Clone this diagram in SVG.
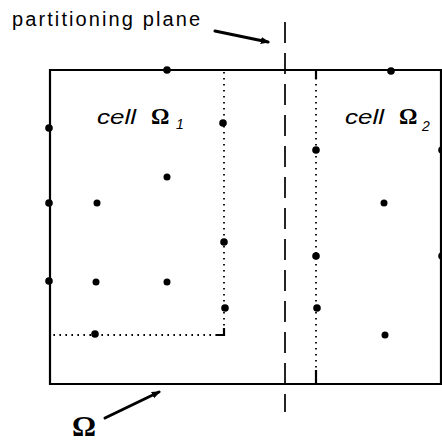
<svg xmlns="http://www.w3.org/2000/svg" width="442" height="443" viewBox="0 0 442 443">
<style>
.solid{fill:none;stroke:#000;stroke-width:2.2}
.dot{fill:#000}
.dotted{fill:none;stroke:#000;stroke-width:1.8;stroke-dasharray:1.6 4.4}
.dash{fill:none;stroke:#000;stroke-width:1.7;stroke-dasharray:21 10}
.ptr{fill:none;stroke:#000;stroke-width:3;stroke-linecap:round}
.lab{font-family:"Liberation Sans",Arial,sans-serif;fill:#000}
.om{font-family:"Liberation Serif","Times New Roman",serif;font-weight:bold;fill:#000}
</style>
<defs>
<marker id="ah" viewBox="0 0 10 10" refX="8" refY="5" markerWidth="3" markerHeight="3" orient="auto">
<path d="M0,1 L10,5 L0,9 z" fill="#000"/>
</marker>
</defs>
<rect width="442" height="443" fill="#fff"/>
<g id="domain">
<path class="solid" d="M50,70 H441 V384 H50 Z"/>
</g>
<g id="cell1">
<path class="dotted" d="M224,72 V335 H50"/>
<path class="solid" d="M224,328 V335 H216" stroke-width="1.6"/>
<text class="lab" x="97" y="124" font-size="20" font-style="italic" textLength="39" lengthAdjust="spacingAndGlyphs">cell</text>
<text class="om" x="151" y="124" font-size="23">Ω</text>
<text class="lab" x="176" y="129" font-size="14" font-style="italic">1</text>
</g>
<g id="cell2">
<path class="dotted" d="M316,72 V384"/>
<path class="solid" d="M316,70 V79 M316,370 V384" stroke-width="1.6"/>
<text class="lab" x="345" y="124" font-size="20" font-style="italic" textLength="39" lengthAdjust="spacingAndGlyphs">cell</text>
<text class="om" x="399" y="124" font-size="23">Ω</text>
<text class="lab" x="422" y="131" font-size="14" font-style="italic">2</text>
</g>
<g id="points">
<circle class="dot" cx="167" cy="70" r="3.8"/>
<circle class="dot" cx="49" cy="128" r="3.8"/>
<circle class="dot" cx="49" cy="203" r="3.8"/>
<circle class="dot" cx="49" cy="281" r="3.8"/>
<circle class="dot" cx="97" cy="203" r="3.5"/>
<circle class="dot" cx="167" cy="177" r="3.5"/>
<circle class="dot" cx="96" cy="282" r="3.5"/>
<circle class="dot" cx="167" cy="282" r="3.5"/>
<circle class="dot" cx="223" cy="123" r="3.8"/>
<circle class="dot" cx="224" cy="242" r="3.8"/>
<circle class="dot" cx="225" cy="308" r="3.8"/>
<circle class="dot" cx="95" cy="334" r="3.8"/>
<circle class="dot" cx="391" cy="71" r="3.8"/>
<circle class="dot" cx="316" cy="150" r="3.8"/>
<circle class="dot" cx="316" cy="256" r="3.8"/>
<circle class="dot" cx="317" cy="308" r="3.8"/>
<circle class="dot" cx="384" cy="203" r="3.5"/>
<circle class="dot" cx="385" cy="335" r="3.5"/>
<circle class="dot" cx="442" cy="150" r="3.8"/>
<circle class="dot" cx="442" cy="256" r="3.8"/>
</g>
<g id="plane">
<path class="dash" d="M285,22 V412"/>
<text class="lab" x="12" y="26" font-size="20" textLength="188" lengthAdjust="spacing">partitioning plane</text>
</g>
<g id="omega">
<text class="om" x="72" y="436" font-size="30">Ω</text>
</g>
<g id="connectors">
<path class="ptr" d="M215,31 L268,42" marker-end="url(#ah)"/>
<path class="ptr" d="M105,418 L159,392" marker-end="url(#ah)"/>
</g>
</svg>
